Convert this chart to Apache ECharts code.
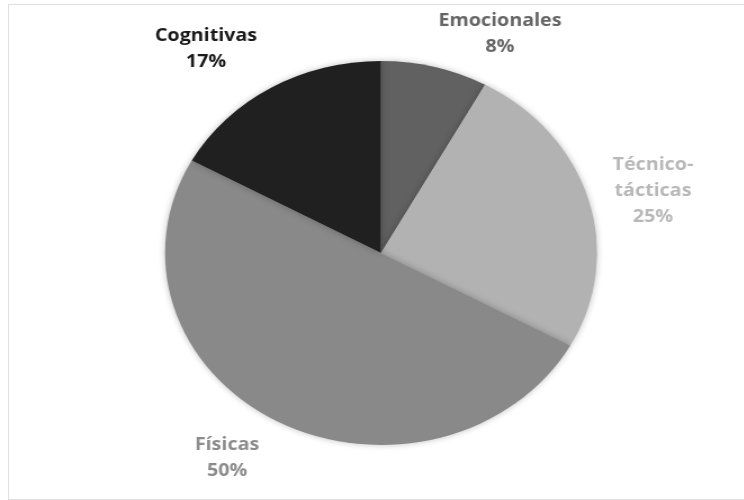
<!DOCTYPE html>
<html>
<head>
<meta charset="utf-8">
<script src="https://cdn.jsdelivr.net/npm/echarts@6/dist/echarts.min.js"></script>
<style>
  html, body { margin: 0; padding: 0; background: #fff; }
  #wrap { position: relative; width: 744px; height: 500px; overflow: hidden; background: #fff; }
  #frame { position: absolute; left: 8px; top: 4px; width: 740px; height: 496px; border: 1px solid #e0e0e0; box-sizing: border-box; }
  #chart { position: absolute; left: 0; top: 0; width: 661.33px; height: 500px; transform: scaleX(1.125); transform-origin: 0 0; }
</style>
</head>
<body>
<div id="wrap">
  <div id="frame"></div>
  <div id="chart"></div>
</div>
<script>
// Data
const categories = ['Emocionales', 'Técnico-tácticas', 'Físicas', 'Cognitivas'];
const values = [8, 25, 50, 17];

// Styles
const sliceColors = ['#616161', '#b2b2b2', '#898989', '#202020'];
const labelColors = ['#666666', '#b8b8b8', '#8c8c8c', '#1a1a1a'];
// label anchor points (pre-stretch pixel space)
const labelAnchors = [[444.4, 34], [580.4, 191], [201.8, 458], [183.1, 49]];

const chart = echarts.init(document.getElementById('chart'), null, { renderer: 'canvas' });

const data = categories.map((name, i) => ({
  name: name,
  value: values[i],
  itemStyle: { color: sliceColors[i] },
  label: { color: labelColors[i] }
}));

chart.setOption({
  animation: false,
  backgroundColor: 'transparent',
  series: [{
    type: 'pie',
    center: [338.7, 253],
    radius: [0, 192],
    startAngle: 90,
    clockwise: true,
    avoidLabelOverlap: false,
    data: data,
    itemStyle: {
      borderWidth: 0,
      shadowBlur: 6,
      shadowColor: 'rgba(0,0,0,0.25)'
    },
    label: {
      show: true,
      position: 'outside',
      fontFamily: '"Open Sans", sans-serif',
      fontWeight: 'bold',
      fontSize: 17.5,
      lineHeight: 26,
      align: 'center',
      formatter: function (p) {
        return p.name.replace('-', '-\n') + '\n' + Math.round(p.percent) + '%';
      }
    },
    labelLine: { show: false },
    labelLayout: function (params) {
      const a = labelAnchors[params.dataIndex];
      return { x: a[0], y: a[1], align: 'center', verticalAlign: 'middle' };
    }
  }]
});
</script>
</body>
</html>
